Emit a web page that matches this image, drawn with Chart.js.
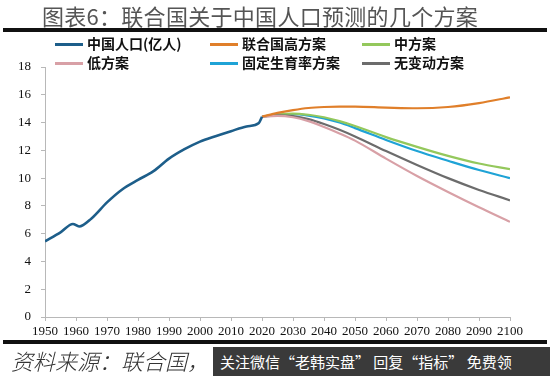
<!DOCTYPE html>
<html>
<head>
<meta charset="utf-8">
<script src="https://cdn.jsdelivr.net/npm/chart.js@4.4.0/dist/chart.umd.min.js"></script>
<style>
  html, body { margin:0; padding:0; background:#fff; }
  body { width:550px; height:376px; position:relative; overflow:hidden; font-family:"Noto Sans CJK SC", sans-serif; }
  #wrap { position:absolute; left:0; top:0; width:550px; height:376px; }
  .title { position:absolute; left:-15px; width:550px; top:1px; text-align:center; font-size:22px; color:#555; font-weight:400; line-height:28px; white-space:nowrap; letter-spacing:0.3px; }
  .rule { position:absolute; left:3px; width:544px; height:4px; background:#111; }
  .leg { position:absolute; font-size:14px; font-weight:700; color:#111; line-height:18px; white-space:nowrap; }
  .leg i { display:inline-block; width:28px; height:3px; vertical-align:middle; margin-right:4px; position:relative; top:-1px; }
  .src { position:absolute; left:11px; top:347px; font-size:22px; font-style:italic; color:#333; font-weight:300; line-height:27px; white-space:nowrap; }
  .banner { position:absolute; left:213px; top:347px; width:337px; height:29px; background:#3a3a3a; color:#fff; font-size:15px; line-height:29px; white-space:nowrap; padding-left:7px; box-sizing:border-box; }
</style>
</head>
<body>
<div id="wrap"><canvas id="c" width="550" height="376"></canvas></div>
<div class="title">图表6：联合国关于中国人口预测的几个方案</div>
<div class="rule" style="top:28px"></div>
<div id="legend"></div>
<div class="rule" style="top:340px"></div>
<div class="src">资料来源：联合国，</div>
<div class="banner">关注微信“老韩实盘” 回复“指标” 免费领</div>
<script>
// Historical population (亿人)
const histYears  = [1950, 1955, 1959, 1961, 1965, 1970, 1975, 1980, 1985, 1990, 1995, 2000, 2005, 2010, 2015, 2019, 2020];
const histValues = [5.45, 6.10, 6.70, 6.52, 7.10, 8.25, 9.20, 9.87, 10.50, 11.40, 12.08, 12.63, 13.02, 13.38, 13.72, 13.97, 14.42];

// UN projections
const projYears      = [2020, 2025, 2030, 2035, 2040, 2045, 2050, 2060, 2070, 2080, 2090, 2100];
const highValues     = [14.42, 14.70, 14.90, 15.05, 15.12, 15.15, 15.15, 15.08, 15.03, 15.12, 15.40, 15.82];
const mediumValues   = [14.42, 14.58, 14.65, 14.56, 14.38, 14.10, 13.75, 12.95, 12.25, 11.60, 11.05, 10.65];
const lowValues      = [14.42, 14.48, 14.38, 14.10, 13.68, 13.22, 12.70, 11.40, 10.15, 9.00, 7.90, 6.85];
const constantValues = [14.42, 14.57, 14.60, 14.50, 14.30, 14.00, 13.60, 12.75, 11.95, 11.25, 10.58, 10.00];
const noChangeValues = [14.42, 14.52, 14.46, 14.25, 13.90, 13.48, 13.00, 11.95, 10.95, 10.00, 9.15, 8.40];

const xTicks = [1950, 1960, 1970, 1980, 1990, 2000, 2010, 2020, 2030, 2040, 2050, 2060, 2070, 2080, 2090, 2100];
const yTicks = [0, 2, 4, 6, 8, 10, 12, 14, 16, 18];

const seriesNames = ["中国人口(亿人)", "联合国高方案", "中方案", "低方案", "固定生育率方案", "无变动方案"];
const seriesColors = ["#1d5e8a", "#e07f2a", "#94c85c", "#d8a0a6", "#1fa3d6", "#6c6c6c"];

function pts(xs, ys) { return xs.map((x, i) => ({ x: x, y: ys[i] })); }

const datasets = [
  { label: seriesNames[0], data: pts(histYears, histValues), borderColor: seriesColors[0], borderWidth: 2.6 },
  { label: seriesNames[1], data: pts(projYears, highValues), borderColor: seriesColors[1], borderWidth: 2.2 },
  { label: seriesNames[3], data: pts(projYears, lowValues), borderColor: seriesColors[3], borderWidth: 2.2 },
  { label: seriesNames[5], data: pts(projYears, noChangeValues), borderColor: seriesColors[5], borderWidth: 2.2 },
  { label: seriesNames[2], data: pts(projYears, mediumValues), borderColor: seriesColors[2], borderWidth: 2.2 },
  { label: seriesNames[4], data: pts(projYears, constantValues), borderColor: seriesColors[4], borderWidth: 2.2 },
].map(d => Object.assign(d, { pointRadius: 0, fill: false, cubicInterpolationMode: 'monotone' }));

// HTML legend (3 columns x 2 rows)
const legPos = [[55, 34], [210, 34], [362, 34], [55, 53], [210, 53], [362, 53]];
const legHost = document.getElementById('legend');
seriesNames.forEach((n, i) => {
  const el = document.createElement('div');
  el.className = 'leg';
  el.style.left = legPos[i][0] + 'px';
  el.style.top = legPos[i][1] + 'px';
  el.innerHTML = '<i style="background:' + seriesColors[i] + '"></i>' + n;
  legHost.appendChild(el);
});

const axisColor = '#b8b8b8';
new Chart(document.getElementById('c'), {
  type: 'line',
  data: { datasets: datasets },
  options: {
    responsive: false,
    animation: false,
    layout: { padding: { top: 67, right: 40, bottom: 0, left: 0 } },
    plugins: { legend: { display: false }, tooltip: { enabled: false } },
    scales: {
      x: {
        type: 'linear', min: 1950, max: 2100,
        afterBuildTicks: s => { s.ticks = xTicks.map(v => ({ value: v })); },
        afterFit: s => { s.height = 59; },
        grid: { drawOnChartArea: false, drawTicks: true, tickLength: 4, color: axisColor },
        border: { display: true, color: axisColor, width: 1 },
        ticks: { color: '#111', padding: 3, maxRotation: 0, autoSkip: false,
                 callback: v => String(v),
                 font: { family: '"Liberation Serif", "Times New Roman", serif', size: 13 } }
      },
      y: {
        min: 0, max: 18,
        afterBuildTicks: s => { s.ticks = yTicks.map(v => ({ value: v })); },
        afterFit: s => { s.width = 45; },
        grid: { drawOnChartArea: false, drawTicks: true, tickLength: 4, color: axisColor },
        border: { display: true, color: axisColor, width: 1 },
        ticks: { color: '#111', padding: 10,
                 callback: v => String(v),
                 font: { family: '"Liberation Serif", "Times New Roman", serif', size: 13 } }
      }
    }
  }
});
</script>
</body>
</html>
